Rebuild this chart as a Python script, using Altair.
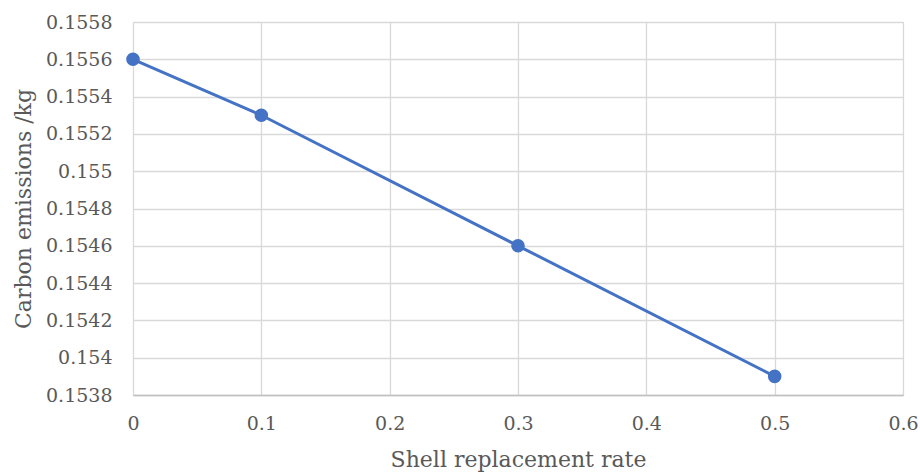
import altair as alt
import pandas as pd

rate = [0, 0.1, 0.3, 0.5]
emissions = [0.1556, 0.1553, 0.1546, 0.1539]
y_ticks = [0.1538, 0.1540, 0.1542, 0.1544, 0.1546, 0.1548, 0.1550, 0.1552, 0.1554, 0.1556, 0.1558]
x_ticks = [0, 0.1, 0.2, 0.3, 0.4, 0.5, 0.6]

df = pd.DataFrame({"rate": rate, "emissions": emissions})

FONT = "DejaVu Serif"
GREY = "#595959"
BLUE = "#4472C4"

x = alt.X("rate:Q", title="Shell replacement rate",
          scale=alt.Scale(domain=[0, 0.6], nice=False),
          axis=alt.Axis(values=x_ticks, format=".1~f", labelPadding=19, titlePadding=16,
                        domainColor="#bfbfbf", domainWidth=1.5))
y = alt.Y("emissions:Q", title="Carbon emissions /kg",
          scale=alt.Scale(domain=[0.1538, 0.1558], nice=False, zero=False),
          axis=alt.Axis(values=y_ticks, format=".4~f", labelPadding=21, titlePadding=10,
                        domain=False))

line = alt.Chart(df).mark_line(color=BLUE, strokeWidth=3).encode(x=x, y=y)
pts = alt.Chart(df).mark_circle(color=BLUE, size=185, opacity=1).encode(x=x, y=y)

chart = (line + pts).properties(
    width=770, height=373,
    autosize=alt.AutoSizeParams(type="none"),
    padding={"left": 133, "top": 22, "right": 17, "bottom": 77},
).configure_view(stroke=None).configure(background="white", font=FONT).configure_axis(
    labelFont=FONT, labelFontSize=19, labelColor=GREY, titleFont=FONT, titleFontSize=22,
    titleColor=GREY, titleFontWeight="normal", ticks=False, labelFlush=False,
    gridColor="#d9d9d9", gridWidth=1.3,
)

chart.save("out.html", embed_options={"renderer": "svg", "actions": False})
